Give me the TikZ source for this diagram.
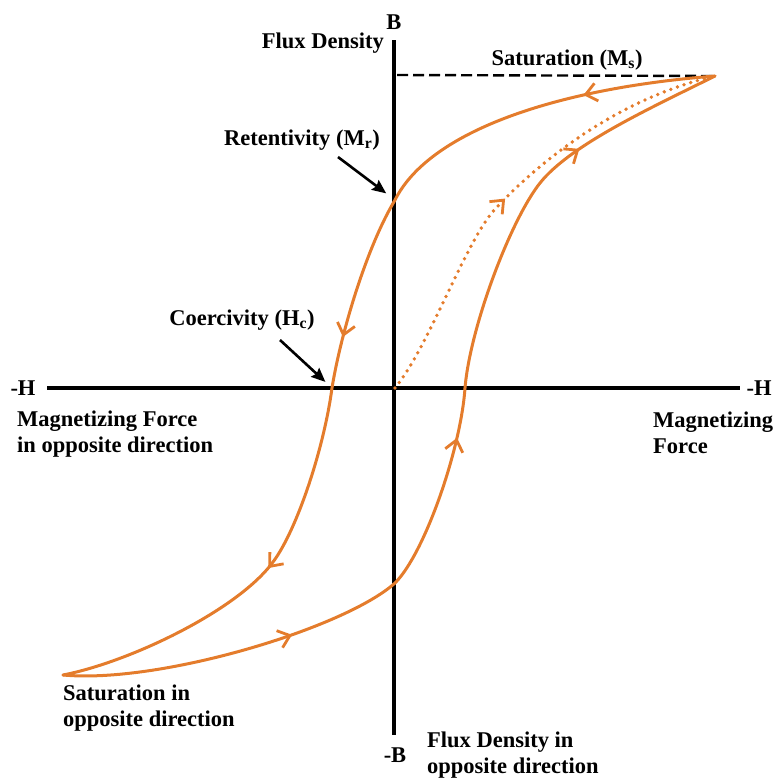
\documentclass[tikz,border=0pt]{standalone}
\usepackage{fontspec}
\setmainfont{Liberation Serif}
\usetikzlibrary{arrows.meta,decorations.markings}
\definecolor{hyst}{RGB}{228,124,44}
\begin{document}
\begin{tikzpicture}[x=1pt,y=-1pt,
  every node/.style={font=\fontsize{22.5}{26}\selectfont\bfseries,inner sep=0pt},
  axis/.style={line width=3.6pt},
  pointer/.style={line width=2.6pt,-{Stealth[length=14pt,width=12pt,inset=2pt]}},
  loopline/.style={draw=hyst,line width=3pt,line cap=round},
  midtip/.style={postaction={decorate,decoration={markings,
    mark=at position #1 with {\arrow[hyst,line width=2.8pt,solid]{Straight Barb[length=11pt,width=18pt]}}}}}]
\useasboundingbox (0,0) rectangle (777,780);

% axes
\draw[axis] (47,388) -- (740,388);
\draw[axis] (394,40) -- (394,735);
\node (B)  at (394,22) {B};
\node (mB) at (395,755) {-B};
\node (Hl) at (23,388) {-H};
\node (Hr) at (759,388) {-H};
\node[anchor=east] (flux) at (384,43) {Flux Density};
\node[anchor=west,align=left] (magl) at (17,434) {Magnetizing Force\\in opposite direction};
\node[anchor=west,align=left] (magr) at (653,433) {Magnetizing\\Force};
\node[anchor=west,align=left] (fluxn) at (427,755) {Flux Density in\\opposite direction};
\node[anchor=west,align=left] (satn) at (63,708) {Saturation in\\opposite direction};

% points of the loop
\coordinate (sat) at (715,76);
\coordinate (nsat) at (63,675);
\coordinate (O) at (395,388);
\coordinate (mr) at (395,200);
\coordinate (hc) at (332,388);
\coordinate (nmr) at (395,583);
\coordinate (nhc) at (465,388);

\draw[line width=2.4pt,dash pattern=on 11pt off 5pt] (397,75) -- (sat);
\node (ms) at (567,60) {Saturation (M\textsubscript{s})};

% hysteresis loop
\draw[loopline,midtip=133pt,midtip=502pt,midtip=747pt]
  (sat) .. controls (560,88) and (430,130) .. (mr)
        .. controls (365,250) and (340,338) .. (hc)
        .. controls (324,448) and (297,530) .. (273,562)
        .. controls (238,610) and (130,662) .. (nsat);
\draw[loopline,midtip=234pt,midtip=509pt,midtip=832pt]
  (nsat) .. controls (160,684) and (345,628) .. (nmr)
         .. controls (425,553) and (461,448) .. (nhc)
         .. controls (470,328) and (510,221) .. (540,183)
         .. controls (571,144) and (655,106) .. (sat);
% initial magnetization
\draw[loopline,line width=3.8pt,dash pattern=on 0pt off 7pt,midtip=220pt]
  (O) .. controls (430,345) and (467,237) .. (497,207)
      .. controls (542,159) and (620,98) .. (sat);

% labels with pointers
\node (ret) at (302,140) {Retentivity (M\textsubscript{r})};
\coordinate (retp) at (338,157);
\draw[pointer,shorten >=11pt] (retp) -- (mr);
\node (coe) at (242,320) {Coercivity (H\textsubscript{c})};
\coordinate (coep) at (280,340);
\draw[pointer,shorten >=9pt] (coep) -- (hc);
\end{tikzpicture}
\end{document}
